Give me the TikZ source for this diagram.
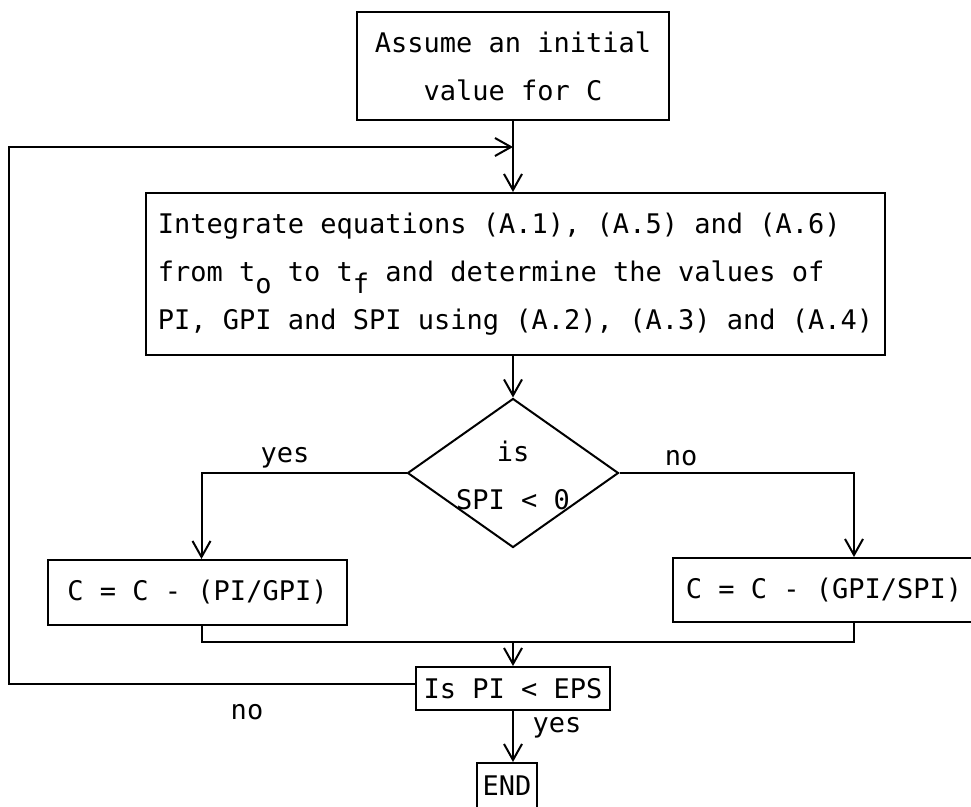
\documentclass[tikz,border=0pt]{standalone}
\usepackage{fontspec}
\newfontfamily\mono{DejaVu Sans Mono}
\usetikzlibrary{shapes.geometric,arrows.meta}
\begin{document}
\begin{tikzpicture}[x=1pt,y=-1pt,
  every node/.style={font=\mono\fontsize{27}{48}\selectfont},
  box/.style={draw,line width=2pt,inner sep=0pt,align=center},
  lbl/.style={inner sep=0pt},
  ln/.style={line width=2pt},
  arr/.style={line width=2pt,-{Straight Barb[length=16pt,width=18pt,line width=2pt]}}]
\useasboundingbox (0,0) rectangle (971,806);
\clip (0,0) rectangle (971,806);
% nodes
\node[box,minimum width=312pt,minimum height=108pt] (top) at (513,66) {Assume an initial\\value for C};
\node[box,minimum width=739pt,minimum height=162pt,align=left] (integ) at (515.5,274)
  {Integrate equations (A.1), (A.5) and (A.6)\\
   from t\raisebox{-12pt}{o} to t\raisebox{-12pt}{f} and determine the values of\\
   PI, GPI and SPI using (A.2), (A.3) and (A.4)};
\node[draw,diamond,line width=2pt,inner sep=0pt,minimum width=211pt,minimum height=149pt] (dia) at (513,473) {};
\node[lbl,align=center] (diat) at (513,475) {is\\SPI < 0};
\node[box,minimum width=299pt,minimum height=65pt] (left) at (197.5,592.5) {C = C - (PI/GPI)};
\node[box,minimum width=302pt,minimum height=64pt] (right) at (824,590) {C = C - (GPI/SPI)};
\node[box,minimum width=194pt,minimum height=43pt] (ispi) at (513,688.5) {Is PI < EPS};
\node[box,minimum width=60pt,minimum height=46pt] (end) at (507,786) {END};
% labels
\node[lbl] (yes1) at (285,458) {yes};
\node[lbl] (no1) at (681,458) {no};
\node[lbl] (no2) at (247,712) {no};
\node[lbl] (yes2) at (557,728) {yes};
% coordinates
\coordinate (cL) at (9,147);
\coordinate (join) at (513,147);
\coordinate (mergeM) at (513,642);
% connectors
\draw[arr] (top.south) -- (top.south |- integ.north);
\draw[arr] ([yshift=5pt]ispi.west) -| (cL) -- (join);
\draw[arr] (dia.north |- integ.south) -- (dia.north);
\draw[arr] (dia.west) -| ([xshift=4pt]left.north);
\draw[arr] (dia.east) -| ([xshift=30pt]right.north);
\draw[ln] ([xshift=4pt]left.south) |- (mergeM) -| ([xshift=30pt]right.south);
\draw[arr] (mergeM) -- (ispi.north);
\draw[arr] (ispi.south) -- (ispi.south |- end.north);
\end{tikzpicture}
\end{document}
